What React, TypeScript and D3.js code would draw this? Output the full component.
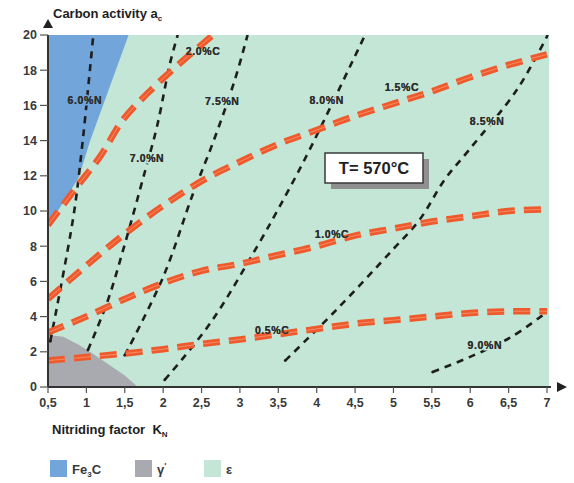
import React from 'react';
import * as d3 from 'd3';

// ---- data ----
type Pt = [number, number];

const xTicks = [0.5, 1, 1.5, 2, 2.5, 3, 3.5, 4, 4.5, 5, 5.5, 6, 6.5, 7];
const yTicks = [0, 2, 4, 6, 8, 10, 12, 14, 16, 18, 20];

const fe3cRegion: Pt[] = [[0.5, 20], [1.55, 20], [1.05, 14.0], [0.9, 11.9], [0.5, 9.1]];
const gammaRegion: Pt[] = [[0.5, 0], [0.5, 2.95], [0.7, 2.85], [0.9, 2.4], [1.1, 1.85], [1.3, 1.25], [1.5, 0.65], [1.67, 0]];

const carbon20: Pt[] = [[0.5, 9.2], [0.88, 11.4], [1.18, 13.1], [1.48, 15.2], [1.87, 17.0], [2.22, 18.4], [2.65, 20]];
const carbon15: Pt[] = [[0.5, 5.0], [1, 6.9], [1.5, 8.7], [2, 10.3], [2.5, 11.7], [3, 12.8], [3.5, 13.8], [4, 14.6], [4.5, 15.4], [5, 16.1], [5.5, 16.8], [6, 17.6], [6.5, 18.3], [7, 18.9]];
const carbon10: Pt[] = [[0.5, 3.1], [1, 4.0], [1.5, 5.0], [2, 5.9], [2.5, 6.6], [3, 7.0], [3.5, 7.5], [4, 8.0], [4.5, 8.6], [5, 9.0], [5.5, 9.4], [6, 9.7], [6.5, 10.0], [7, 10.1]];
const carbon05: Pt[] = [[0.5, 1.5], [1, 1.7], [1.5, 1.9], [2, 2.15], [2.5, 2.45], [3, 2.7], [3.5, 3.0], [4, 3.3], [4.5, 3.6], [5, 3.8], [5.5, 4.0], [6, 4.2], [6.5, 4.3], [7, 4.3]];

const nitrogen60: Pt[] = [[0.53, 2.6], [0.83, 9.66], [0.94, 13.5], [1.09, 20]];
const nitrogen70: Pt[] = [[1.02, 2.1], [1.27, 4.8], [1.48, 7.8], [1.76, 12.2], [1.92, 14.8], [2.09, 18.4], [2.19, 20]];
const nitrogen75: Pt[] = [[1.5, 1.8], [2.0, 6.25], [2.39, 11.0], [2.65, 13.9], [2.93, 17.4], [3.1, 20]];
const nitrogen80: Pt[] = [[2.02, 0.4], [2.61, 3.6], [3.22, 7.95], [3.61, 11.0], [3.91, 13.5], [4.63, 20]];
const nitrogen85: Pt[] = [[3.59, 1.5], [4.26, 4.4], [4.99, 7.8], [5.34, 9.5], [5.67, 11.8], [5.99, 13.5], [6.61, 16.9], [7.01, 20]];
const nitrogen90: Pt[] = [[5.51, 0.85], [5.99, 1.7], [6.52, 2.8], [6.95, 4.1]];

const carbonLines = [carbon20, carbon15, carbon10, carbon05];
const nitrogenLines = [nitrogen60, nitrogen70, nitrogen75, nitrogen80, nitrogen85, nitrogen90];

const lineLabels: { text: string; x: number; y: number; onBlue?: boolean }[] = [
  { text: '6.0%N', x: 0.98, y: 16.3, onBlue: true },
  { text: '7.0%N', x: 1.79, y: 13.0 },
  { text: '7.5%N', x: 2.77, y: 16.25 },
  { text: '8.0%N', x: 4.13, y: 16.3 },
  { text: '8.5%N', x: 6.22, y: 15.1 },
  { text: '9.0%N', x: 6.19, y: 2.39 },
  { text: '2.0%C', x: 2.52, y: 19.1 },
  { text: '1.5%C', x: 5.11, y: 17.0 },
  { text: '1.0%C', x: 4.2, y: 8.7 },
  { text: '0.5%C', x: 3.42, y: 3.24 },
];

const blue = '#72a6da';
const grey = '#a9a9b0';
const green = '#c4e6d6';

const legendItems = [
  { label: 'Fe', sub: '3', tail: 'C', sup: '', color: blue },
  { label: 'γ', sub: '', tail: '', sup: "'", color: grey },
  { label: 'ε', sub: '', tail: '', sup: '', color: green },
];

const W = 574;
const H = 483;
const font = '"Liberation Sans", Arial, sans-serif';

const App = () => {
  const x = d3.scaleLinear().domain([0.5, 7]).range([48, 547]);
  const y = d3.scaleLinear().domain([0, 20]).range([387, 35]);

  const area = d3.line<Pt>().x(d => x(d[0])).y(d => y(d[1]));
  const smooth = d3.line<Pt>().x(d => x(d[0])).y(d => y(d[1])).curve(d3.curveCatmullRom.alpha(0.5));

  const fmt = (v: number) => String(v).replace('.', ',');
  const plotRight = x(7) + 2;

  const labelText = (halo: boolean) =>
    lineLabels.map(l => (
      <text key={l.text + halo} x={x(l.x)} y={y(l.y)} dy="0.35em" textAnchor="middle"
        fontSize={10.5} fontWeight="bold" letterSpacing={0.6} fill="#2e2e2e"
        stroke={halo ? (l.onBlue ? blue : green) : 'none'} strokeWidth={3}
        style={{ paintOrder: 'stroke' }}>{l.text}</text>
    ));

  return (
    <svg width={W} height={H} style={{ position: 'absolute', left: 0, top: 0, background: '#fff' }} fontFamily={font}>
      <defs>
        <clipPath id="plot">
          <rect x={x(0.5)} y={y(20)} width={plotRight - x(0.5)} height={y(0) - y(20)} />
        </clipPath>
      </defs>

      {/* regions */}
      <rect x={x(0.5)} y={y(20)} width={plotRight - x(0.5)} height={y(0) - y(20)} fill={green} />
      <path d={area(fe3cRegion) + 'Z'} fill={blue} />
      <path d={area(gammaRegion) + 'Z'} fill={grey} />

      <g clipPath="url(#plot)">
        {nitrogenLines.map((pts, i) => (
          <g key={'n' + i}>
            <path d={smooth(pts) ?? ''} fill="none" stroke="#1e1e1e" strokeWidth={2.6} strokeDasharray="7 6" />
            <circle cx={x(pts[0][0])} cy={y(pts[0][1])} r={1.4} fill="#1e1e1e" />
          </g>
        ))}
      </g>

      {/* label halos cut the black isolines */}
      {labelText(true)}

      <g clipPath="url(#plot)">
        {carbonLines.map((pts, i) => (
          <g key={'c' + i}>
            <path d={smooth(pts) ?? ''} fill="none" stroke="#ee5a2c" strokeWidth={6.5} strokeDasharray="17 9" />
            <path d={smooth(pts) ?? ''} fill="none" stroke="#f6a080" strokeWidth={1} strokeDasharray="17 9" opacity={0.7} />
          </g>
        ))}
      </g>

      {labelText(false)}

      {/* temperature box */}
      <rect x={331} y={159} width={98} height={30} fill="#8f8f8f" />
      <rect x={325} y={153} width={98} height={30} fill="#fff" stroke="#3a3a3a" strokeWidth={1.5} />
      <text x={374} y={168} dy="0.36em" textAnchor="middle" fontSize={16.5} fontWeight="bold" fill="#222">T= 570°C</text>

      {/* axes */}
      <line x1={x(0.5)} x2={x(0.5)} y1={y(0)} y2={y(20)} stroke="#333" strokeWidth={2} />
      <line x1={x(0.5)} x2={plotRight + 2} y1={y(0)} y2={y(0)} stroke="#333" strokeWidth={2} />
      <path d={`M${x(0.5) - 5},${y(20) - 7} L${x(0.5) + 5},${y(20) - 7} L${x(0.5)},${y(20) - 16} Z`} fill="#222" />
      <path d={`M${plotRight + 8},${y(0) - 5} L${plotRight + 8},${y(0) + 5} L${plotRight + 18},${y(0)} Z`} fill="#222" />

      {yTicks.map(t => (
        <g key={'y' + t}>
          <line x1={x(0.5) - 8} x2={x(0.5)} y1={y(t)} y2={y(t)} stroke="#555" strokeWidth={1.2} />
          <text x={x(0.5) - 11} y={y(t)} dy="0.35em" textAnchor="end" fontSize={12.5} fontWeight="bold" fill="#3a3a3a">{t}</text>
        </g>
      ))}
      {xTicks.map(t => (
        <g key={'x' + t}>
          <line x1={x(t)} x2={x(t)} y1={y(0)} y2={y(0) + 6} stroke="#555" strokeWidth={1.2} />
          <text x={x(t)} y={y(0) + 16} dy="0.35em" textAnchor="middle" fontSize={12.5} fontWeight="bold" fill="#3a3a3a">{fmt(t)}</text>
        </g>
      ))}

      {/* axis titles */}
      <text x={53} y={18} fontSize={13} fontWeight="bold" fill="#1e1e1e">
        Carbon activity a<tspan fontSize={8} dy={3}>c</tspan>
      </text>
      <text x={52} y={434} fontSize={13} fontWeight="bold" fill="#1e1e1e" style={{ whiteSpace: 'pre' }}>
        {'Nitriding factor  K'}<tspan fontSize={8} dy={3}>N</tspan>
      </text>

      {/* legend */}
      {legendItems.map((it, i) => {
        const lx = [50, 135, 204][i];
        return (
          <g key={'lg' + i}>
            <rect x={lx} y={460} width={17} height={17} fill={it.color} />
            <text x={lx + 22} y={474} fontSize={13} fontWeight="bold" fill="#3a3a3a">
              {it.label}
              {it.sub && <tspan fontSize={8} dy={3}>{it.sub}</tspan>}
              {it.tail && <tspan dy={-3}>{it.tail}</tspan>}
              {it.sup && <tspan fontSize={9} dy={-5}>{it.sup}</tspan>}
            </text>
          </g>
        );
      })}
    </svg>
  );
};

export default App;
